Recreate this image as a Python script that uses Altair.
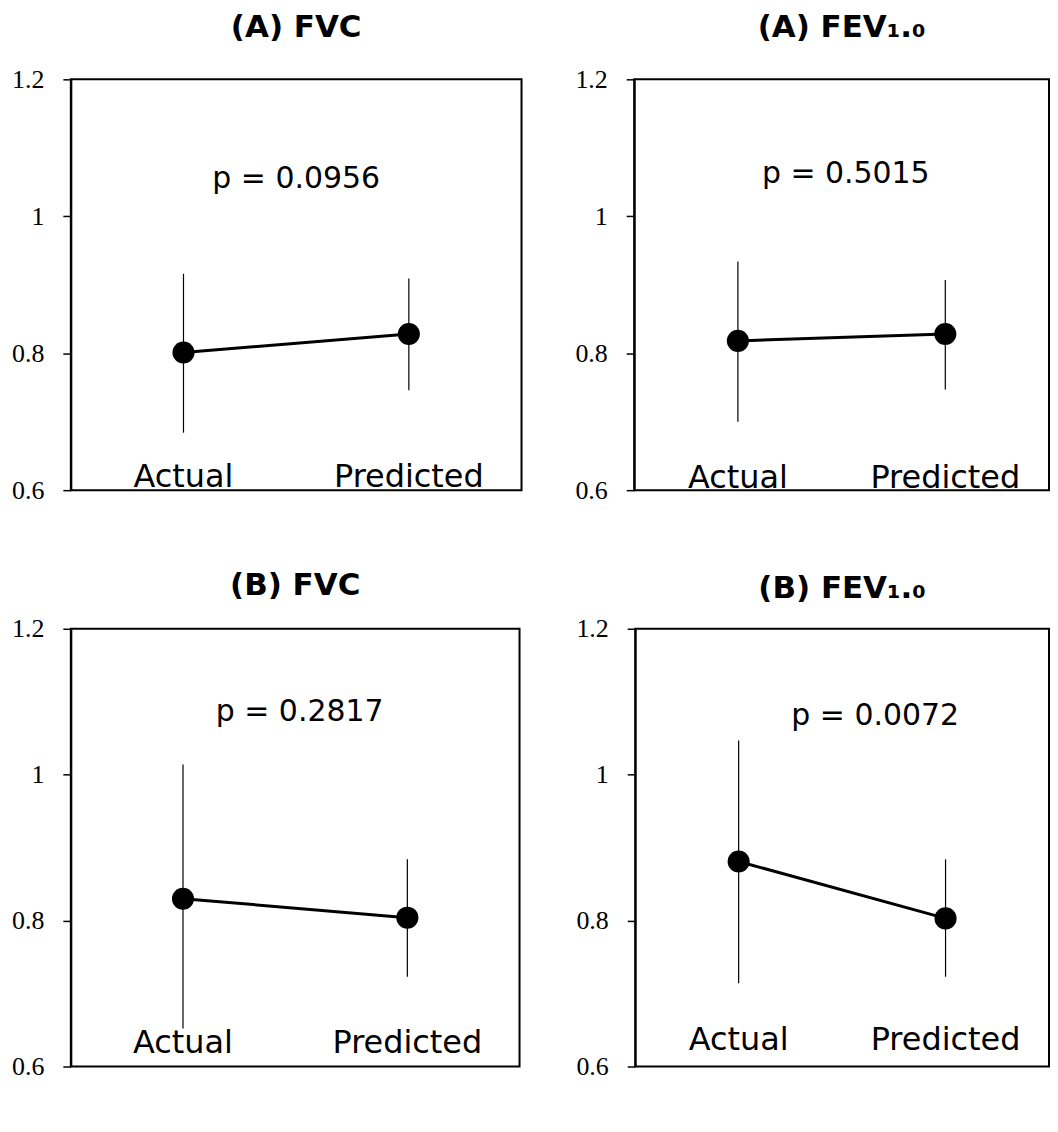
import altair as alt
import pandas as pd

groups = ["Actual", "Predicted"]
titles = ["(A) FVC", "(A) FEV₁.₀", "(B) FVC", "(B) FEV₁.₀"]
p_texts = ["p = 0.0956", "p = 0.5015", "p = 0.2817", "p = 0.0072"]
actual_mean = [0.801, 0.818, 0.830, 0.881]
actual_low = [0.684, 0.700, 0.652, 0.714]
actual_high = [0.916, 0.934, 1.014, 1.047]
pred_mean = [0.828, 0.828, 0.804, 0.803]
pred_low = [0.746, 0.747, 0.723, 0.723]
pred_high = [0.909, 0.907, 0.884, 0.884]
p_y = [1.054, 1.062, 1.086, 1.080]
p_x_frac = [0.50, 0.51, 0.51, 0.58]
label_y = [0.604, 0.603, 0.619, 0.623]
y_ticks = [0.6, 0.8, 1.0, 1.2]

widths = [452, 416, 450, 415]
heights = [412, 412, 439, 439]
title_offsets = [22, 22, 14, 11]


def panel(i):
    w, h = widths[i], heights[i]
    df = pd.DataFrame({
        "group": groups,
        "mean": [actual_mean[i], pred_mean[i]],
        "low": [actual_low[i], pred_low[i]],
        "high": [actual_high[i], pred_high[i]],
        "ly": [label_y[i], label_y[i]],
    })
    x = alt.X("group:N", scale=alt.Scale(type="point", padding=0.5, domain=groups), axis=None)
    ysc = alt.Scale(domain=[0.6, 1.2], nice=False, zero=False)
    yax = alt.Axis(values=y_ticks, format="~g", title=None, grid=False)
    base = alt.Chart(df)
    rules = base.mark_rule(color="black", strokeWidth=1.2).encode(
        x=x, y=alt.Y("low:Q", scale=ysc, axis=yax), y2="high:Q")
    line = base.mark_line(color="black", strokeWidth=3).encode(
        x=x, y=alt.Y("mean:Q", scale=ysc, axis=yax))
    pts = base.mark_circle(size=490, color="black", opacity=1).encode(
        x=x, y=alt.Y("mean:Q", scale=ysc, axis=yax))
    labels = base.mark_text(fontSize=32, font="DejaVu Sans", baseline="alphabetic",
                            color="black").encode(
        x=x, y=alt.Y("ly:Q", scale=ysc, axis=yax), text="group:N")
    pdf = pd.DataFrame({"t": [p_texts[i]], "y": [p_y[i]]})
    ptxt = alt.Chart(pdf).mark_text(fontSize=30, font="DejaVu Sans", color="black").encode(
        x=alt.value(p_x_frac[i] * w), y=alt.Y("y:Q", scale=ysc, axis=yax), text="t:N")
    return alt.layer(rules, line, pts, labels, ptxt).properties(
        width=w, height=h,
        title=alt.TitleParams(titles[i], fontSize=31, font="DejaVu Sans", fontWeight="bold",
                              color="black", anchor="middle", offset=title_offsets[i]))


top = alt.hconcat(panel(0), panel(1), spacing=51)
bottom = alt.hconcat(panel(2), panel(3), spacing=54)
chart = alt.vconcat(top, bottom, spacing=65).properties(
    padding={"left": 2, "top": 2, "right": 0, "bottom": 0},
    background="white"
).configure_view(
    stroke="black", strokeWidth=2
).configure_axis(
    domainColor="black", domainWidth=2, tickColor="black", tickWidth=1.5, tickSize=8,
    labelFont="Liberation Serif", labelFontSize=26, labelColor="black", labelPadding=19
)

chart.save("out.html", embed_options={"renderer": "svg", "actions": False})
